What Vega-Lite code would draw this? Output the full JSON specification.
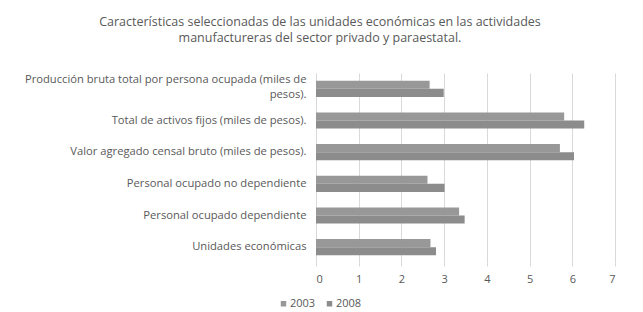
{
  "$schema": "https://vega.github.io/schema/vega-lite/v6.json",
  "width": 299,
  "height": 190,
  "autosize": {"type": "none"},
  "padding": {"left": 316, "top": 73, "right": 29, "bottom": 49},
  "background": "white",
  "title": {
    "text": ["Características seleccionadas de las unidades económicas en las actividades", "manufactureras del sector privado y paraestatal."],
    "font": "Open Sans",
    "fontSize": 12.5,
    "fontWeight": "normal",
    "color": "#595959",
    "anchor": "middle",
    "frame": "bounds",
    "offset": 29,
    "lineHeight": 15.5
  },
  "data": {
    "values": [
      {"cat": "Producción bruta total por persona ocupada (miles de|pesos).", "year": "2003", "value": 2.66},
      {"cat": "Producción bruta total por persona ocupada (miles de|pesos).", "year": "2008", "value": 2.99},
      {"cat": "Total de activos fijos (miles de pesos).", "year": "2003", "value": 5.81},
      {"cat": "Total de activos fijos (miles de pesos).", "year": "2008", "value": 6.28},
      {"cat": "Valor agregado censal bruto (miles de  pesos).", "year": "2003", "value": 5.71},
      {"cat": "Valor agregado censal bruto (miles de  pesos).", "year": "2008", "value": 6.04},
      {"cat": "Personal ocupado no dependiente", "year": "2003", "value": 2.61},
      {"cat": "Personal ocupado no dependiente", "year": "2008", "value": 3.01},
      {"cat": "Personal ocupado dependiente", "year": "2003", "value": 3.35},
      {"cat": "Personal ocupado dependiente", "year": "2008", "value": 3.48},
      {"cat": "Unidades económicas", "year": "2003", "value": 2.68},
      {"cat": "Unidades económicas", "year": "2008", "value": 2.81}
    ]
  },
  "mark": {"type": "bar"},
  "encoding": {
    "y": {
      "field": "cat",
      "type": "nominal",
      "sort": null,
      "title": null,
      "scale": {"paddingInner": 0.49, "paddingOuter": 0.245},
      "axis": {
        "labelExpr": "split(datum.label, '|')",
        "labelFont": "Open Sans",
        "labelFontSize": 11.2,
        "labelColor": "#595959",
        "labelPadding": 10,
        "labelLimit": 320,
        "labelLineHeight": 15,
        "labelOffset": {"condition": {"test": "indexof(datum.value, '|') >= 0", "value": -9}, "value": 0},
        "ticks": false,
        "domainColor": "#d9d9d9",
        "grid": false
      }
    },
    "yOffset": {"field": "year", "type": "nominal", "sort": ["2003", "2008"], "scale": {"paddingInner": 0, "paddingOuter": 0}},
    "x": {
      "field": "value",
      "type": "quantitative",
      "title": null,
      "scale": {"domain": [0, 7], "nice": false},
      "axis": {
        "values": [0, 1, 2, 3, 4, 5, 6, 7],
        "labelFont": "Open Sans",
        "labelFontSize": 11,
        "labelColor": "#595959",
        "labelPadding": 7,
        "domain": false,
        "tickColor": "#d9d9d9",
        "tickSize": 3,
        "gridColor": "#d9d9d9",
        "gridWidth": 1
      }
    },
    "color": {
      "field": "year",
      "type": "nominal",
      "scale": {"domain": ["2003", "2008"], "range": ["#989898", "#8c8c8c"]},
      "legend": {
        "title": null,
        "orient": "none",
        "direction": "horizontal",
        "legendX": -38,
        "legendY": 225,
        "symbolType": "square",
        "symbolSize": 30,
        "symbolStrokeWidth": 0,
        "labelFont": "Open Sans",
        "labelFontSize": 11,
        "labelColor": "#595959",
        "labelOffset": 1,
        "columnPadding": 8
      }
    }
  },
  "config": {"view": {"stroke": null}}
}
